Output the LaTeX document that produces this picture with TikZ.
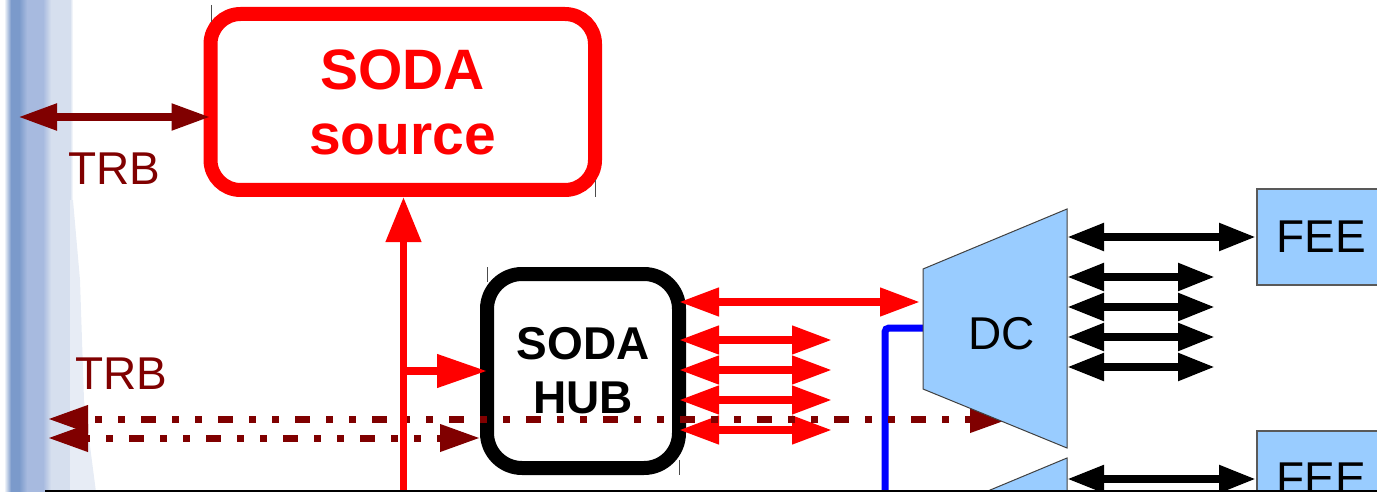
\documentclass[tikz,border=0pt]{standalone}
\usepackage{fontspec}
\setmainfont{Liberation Sans}
\usetikzlibrary{arrows.meta,calc}
\definecolor{trbred}{HTML}{800000}
\definecolor{dcblue}{HTML}{99CCFF}
\definecolor{bardark}{HTML}{7B9ACB}
\definecolor{barmid}{HTML}{A7BADF}
\definecolor{barlight}{HTML}{D6DFEE}
\tikzset{
  bigtip/.tip={Triangle[length=40pt,width=27pt]},
  blktip/.tip={Triangle[length=37pt,width=26pt]},
  dottip/.tip={Triangle[length=40pt,width=26pt]},
  srcbox/.style={draw=red, line width=14pt, rounded corners=30pt, fill=white,
    minimum width=384.5pt, minimum height=176pt, inner sep=0pt, outer sep=0pt,
    text=red, align=center, font=\fontsize{57}{65}\selectfont\bfseries},
  hubbox/.style={draw=black, line width=14pt, rounded corners=35pt, fill=white,
    minimum width=192pt, minimum height=194pt, inner sep=0pt, outer sep=0pt,
    align=center, font=\fontsize{46}{54}\selectfont\bfseries},
  feebox/.style={draw=black!65, fill=dcblue, line width=1.5pt,
    minimum width=129pt, minimum height=96pt, inner sep=0pt, outer sep=0pt,
    font=\fontsize{46}{54}\selectfont},
  dcshape/.style={draw=black!75, fill=dcblue, line width=1pt},
  lbl/.style={inner sep=0pt, outer sep=0pt, font=\fontsize{46}{54}\selectfont},
  trblbl/.style={lbl, text=trbred, font=\fontsize{46}{54}\selectfont},
  redwire/.style={draw=red, line width=7.5pt},
  redboth/.style={redwire, bigtip-bigtip},
  blkboth/.style={draw=black, line width=8pt, blktip-blktip},
  trbboth/.style={draw=trbred, line width=8pt, {Triangle[length=39pt,width=25pt]}-{Triangle[length=39pt,width=25pt]}},
  dotboth/.style={draw=trbred, line width=7pt, dottip-dottip,
    dash pattern=on 7pt off 16pt on 7pt off 16pt on 15pt off 16pt},
  hair/.style={draw=black!70, line width=0.8pt}
}
\begin{document}
\begin{tikzpicture}[x=1pt,y=-1pt]
\useasboundingbox (0,0) rectangle (1377,492);
\clip (0,0) rectangle (1377,492);

% textured side bar
\fill[barlight!60!white] (70,0) -- (72,0) -- (73,200) -- (80,280) -- (84,400) -- (96,492) -- (70,492) -- cycle;
\shade[left color=white, right color=bardark] (4,0) rectangle (11,492);
\fill[bardark] (11,0) rectangle (19,492);
\shade[left color=bardark, right color=barmid] (19,0) rectangle (27,492);
\fill[barmid] (27,0) rectangle (43,492);
\shade[left color=barmid, right color=barlight] (43,0) rectangle (51,492);
\fill[barlight] (51,0) rectangle (70,492);
\shade[left color=barlight, right color=white] (70,0) rectangle (73,200);

% free ends and helper points
\coordinate (trbtop) at (18,117);
\coordinate (srcfoot) at (403.5,500);
\coordinate (trbA) at (48,419);
\coordinate (trbB) at (48,438);
\coordinate (dcsig) at (920,302);
\coordinate (r1) at (832,340);
\coordinate (r2) at (832,370);
\coordinate (r3) at (832,400);
\coordinate (r4) at (832,430);
\coordinate (dcdot) at (1010,419);
\coordinate (dcTL) at (923,269);
\coordinate (dcTR) at (1067,209);
\coordinate (dcBR) at (1067,448);
\coordinate (dcBL) at (923,389);
\coordinate (dcin) at (923,328);
\coordinate (bluefoot) at (885,500);
\coordinate (dc2TL) at (923,518);
\coordinate (dc2TR) at (1067,458);
\coordinate (dc2BR) at (1067,697);
\coordinate (dc2BL) at (923,638);
\coordinate (b1) at (1215,277);
\coordinate (b2) at (1215,307);
\coordinate (b3) at (1215,337);
\coordinate (b4) at (1215,367);

% SODA source
\node[srcbox] (src) at (402.75,102) {SODA\\source};
\node[trblbl] (trb1) at (114,169) {TRB};
\draw[trbboth] (trbtop) -- (src.west |- trbtop);

% SODA hub
\node[hubbox] (hub) at (583,371) {SODA\\HUB};

% hub outputs
\draw[redboth] (hub.east |- dcsig) -- (dcsig);
\foreach \p in {r1,r2,r3,r4}
  \draw[redboth] (hub.east |- \p) -- (\p);

% blue link into DC
\draw[blue, line width=7pt, rounded corners=4pt] (dcin) -| (bluefoot);

% TRB dotted links
\node[trblbl] (trb2) at (121.5,374) {TRB};
\draw[dotboth, dash phase=68pt] (trbA) -- (dcdot);
\draw[dotboth, dash phase=3pt] (trbB) -- ($(hub.west |- trbB)+(-7,0)$);

% SODA source feed and hub branch
\draw[redwire, -{Triangle[length=45pt,width=34pt]}] (srcfoot) -- ($(src.south -| srcfoot)+(0,7)$);
\draw[redwire, -{Triangle[length=50pt,width=32pt]}] (srcfoot |- hub.west) -- (hub.west);

% data concentrators
\draw[dcshape] (dcTL) -- (dcTR) -- (dcBR) -- (dcBL) -- cycle;
\node[lbl] (dc) at (1001.5,334) {DC};
\draw[dcshape] (dc2TL) -- (dc2TR) -- (dc2BR) -- (dc2BL) -- cycle;

% front-end electronics
\node[feebox] (fee1) at (1321.5,237) {FEE};
\node[feebox] (fee2) at (1321.5,479) {FEE};
\draw[blkboth] (dcTR |- fee1.west) -- ($(fee1.west)+(-1,0)$);
\foreach \p in {b1,b2,b3,b4}
  \draw[blkboth] (dcTR |- \p) -- (\p);
\draw[blkboth] (dc2TR |- fee2.west) -- ($(fee2.west)+(-1,0)$);

% small marks at box corners
\draw[hair] (211,5) -- (211,22);
\draw[hair] (595,180) -- (595,197);
\draw[hair] (487,267) -- (487,282);
\draw[hair] (679,460) -- (679,475);

% base line
\draw[line width=3pt] (45,491) -- (1377,491);
\end{tikzpicture}
\end{document}
